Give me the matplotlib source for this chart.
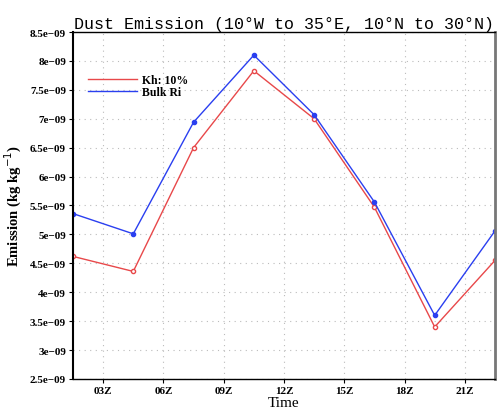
import numpy as np
import matplotlib.pyplot as plt

# hours (UTC) of the 3-hourly means
hours = [1.5, 4.5, 7.5, 10.5, 13.5, 16.5, 19.5, 22.5]
kh10 = [4.62, 4.36, 6.50, 7.83, 7.00, 5.47, 3.40, 4.55]      # x 1e-9
bulk_ri = [5.36, 5.01, 6.94, 8.10, 7.07, 5.56, 3.60, 5.06]   # x 1e-9

xticks = [3, 6, 9, 12, 15, 18, 21]
xticklabels = ['03Z', '06Z', '09Z', '12Z', '15Z', '18Z', '21Z']
yticks = np.arange(2.5, 8.51, 0.5)

serif = ['Liberation Serif', 'DejaVu Serif']

fig = plt.figure(figsize=(5.02, 4.10), dpi=100)
ax = fig.add_axes([0.1454, 0.0732, 0.8406, 0.8463])

ax.plot(hours, kh10, '-o', color='#e8484a', lw=1.0, ms=3.0,
        mfc='white', mec='#e8484a', mew=1.0, label='Kh: 10%')
ax.plot(hours, bulk_ri, '-o', color='#2a3ff0', lw=1.0, ms=3.0,
        label='Bulk Ri')

ax.set_xlim(1.5, 22.5)
ax.set_ylim(2.5, 8.5)
ax.set_xticks(xticks)
ax.set_xticklabels(xticklabels, fontfamily=serif, fontweight='bold', fontsize=8)
ax.set_yticks(yticks)
ax.set_yticklabels([f'{v:g}e\u221209' for v in yticks],
                   fontfamily=serif, fontweight='bold', fontsize=8)
ax.tick_params(length=3, width=0.8, pad=2)
ax.grid(True, ls=(0, (1, 4)), color='#bbbbbb', lw=0.8)

for side in ['top', 'bottom']:
    ax.spines[side].set_linestyle((0, (2, 1)))
    ax.spines[side].set_linewidth(1.0)
ax.spines['left'].set_linewidth(1.5)
ax.spines['right'].set_linewidth(2.0)
ax.spines['right'].set_color('#777777')

ax.set_title('Dust Emission (10°W to 35°E, 10°N to 30°N)',
             fontfamily=['Liberation Mono', 'DejaVu Sans Mono'], fontsize=12, pad=3)
ax.set_xlabel('Time', fontfamily=serif, fontsize=11, labelpad=1)
ax.set_ylabel('Emission (kg kg$^{-1}$)', fontfamily=serif, fontweight='bold',
              fontsize=10.5, labelpad=4)

leg = ax.legend(loc='upper left', bbox_to_anchor=(0.01, 0.91), frameon=False,
                prop={'family': serif, 'weight': 'bold', 'size': 8.5},
                handlelength=4.2, handletextpad=0.4, labelspacing=0.0,
                markerscale=0)
for h in leg.legend_handles:
    h.set_marker('')

fig.savefig('out.png', dpi=100)
